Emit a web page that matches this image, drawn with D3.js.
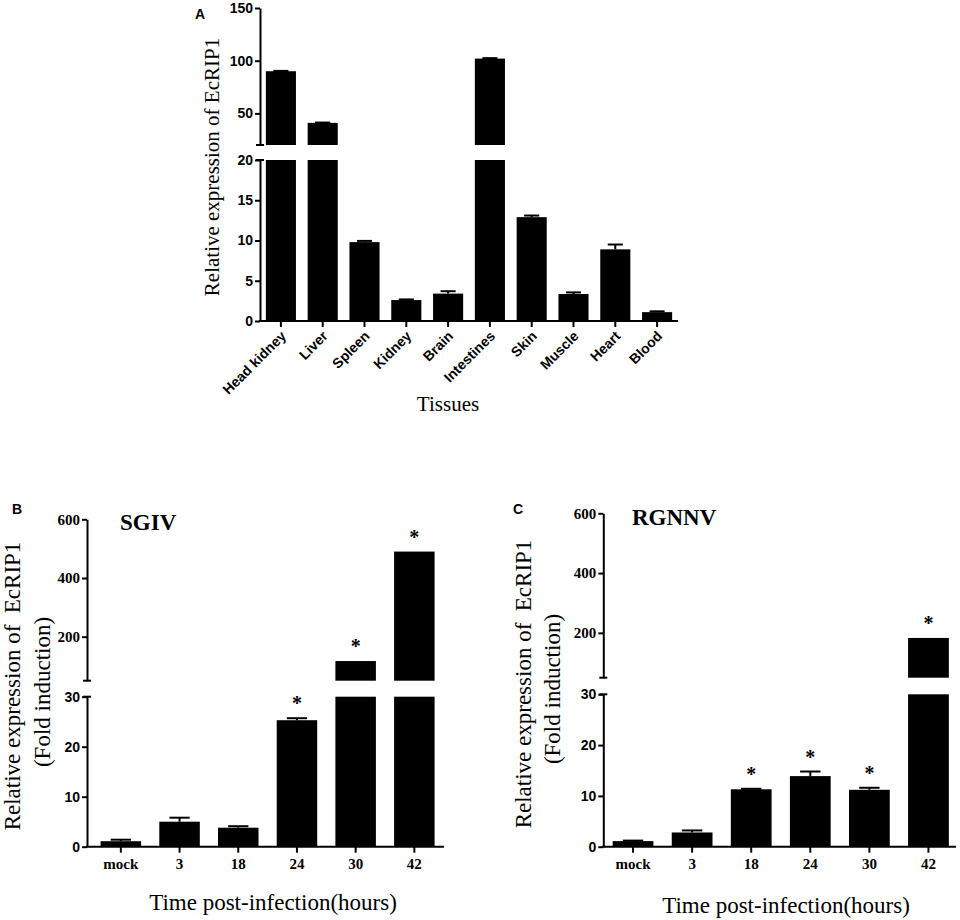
<!DOCTYPE html>
<html>
<head>
<meta charset="utf-8">
<script src="https://cdn.jsdelivr.net/npm/d3@7"></script>
<style>
  body { margin: 0; background: #fff; }
  svg { display: block; }
  text { white-space: pre; }
</style>
</head>
<body>
<script>
// ---------------- DATA ----------------
const tissues = ["Head kidney", "Liver", "Spleen", "Kidney", "Brain", "Intestines", "Skin", "Muscle", "Heart", "Blood"];
const tissueValues = [90, 41, 9.8, 2.6, 3.4, 102, 12.9, 3.35, 8.9, 1.1];
const tissueErrors = [0.3, 0.3, 0.15, 0.08, 0.3, 0.4, 0.2, 0.2, 0.6, 0.1];
const tissueLowTicks = [0, 5, 10, 15, 20];
const tissueHighTicks = [50, 100, 150];

const timeLabels = ["mock", "3", "18", "24", "30", "42"];
const sgivValues = [1.1, 5.0, 3.8, 25.3, 117, 490];
const sgivErrors = [0.3, 0.8, 0.3, 0.4, 0, 0];
const sgivSig = [false, false, false, true, true, true];
const rgnnvValues = [1.1, 2.8, 11.3, 13.9, 11.2, 183];
const rgnnvErrors = [0.1, 0.4, 0.1, 0.9, 0.4, 0];
const rgnnvSig = [false, false, true, true, true, true];
const timeLowTicks = [0, 10, 20, 30];
const timeHighTicks = [200, 400, 600];

// ---------------- DRAWING ----------------
const SANS = "'Liberation Sans', Arial, sans-serif";
const SERIF = "'Liberation Serif', 'Times New Roman', serif";

const svg = d3.select("body").append("svg")
  .attr("width", 960).attr("height", 920);

function drawPanel(cfg) {
  const g = svg.append("g");
  const x = d3.scaleBand().domain(cfg.cats).range(cfg.xRange)
    .paddingInner(cfg.padIn).paddingOuter(cfg.padOut);
  const yLow = d3.scaleLinear().domain(cfg.lowDomain).range(cfg.lowRange);
  const yHigh = d3.scaleLinear().domain(cfg.highDomain).range(cfg.highRange);
  const lowMax = cfg.lowDomain[1];
  const highMin = cfg.highDomain[0];
  const y = v => v <= lowMax ? yLow(v) : yHigh(v);
  const data = cfg.cats.map((c, i) => ({ c, v: cfg.vals[i], e: cfg.errs[i], s: cfg.sig ? cfg.sig[i] : false }));

  // lower bar parts
  g.selectAll("rect.low").data(data).join("rect").attr("class", "low")
    .attr("x", d => x(d.c)).attr("width", x.bandwidth())
    .attr("y", d => yLow(Math.min(d.v, lowMax)))
    .attr("height", d => yLow(0) - yLow(Math.min(d.v, lowMax)))
    .attr("fill", "#000");
  // upper bar parts
  g.selectAll("rect.high").data(data.filter(d => d.v > lowMax)).join("rect").attr("class", "high")
    .attr("x", d => x(d.c)).attr("width", x.bandwidth())
    .attr("y", d => yHigh(d.v))
    .attr("height", d => yHigh(highMin) - yHigh(d.v))
    .attr("fill", "#000");
  // error bars
  const capW = x.bandwidth() * cfg.capFrac;
  const eb = g.selectAll("g.err").data(data.filter(d => d.e > 0)).join("g").attr("class", "err");
  eb.append("line")
    .attr("x1", d => x(d.c) + x.bandwidth() / 2).attr("x2", d => x(d.c) + x.bandwidth() / 2)
    .attr("y1", d => y(d.v)).attr("y2", d => y(d.v + d.e))
    .attr("stroke", "#000").attr("stroke-width", 2);
  eb.append("line")
    .attr("x1", d => x(d.c) + x.bandwidth() / 2 - capW / 2).attr("x2", d => x(d.c) + x.bandwidth() / 2 + capW / 2)
    .attr("y1", d => y(d.v + d.e)).attr("y2", d => y(d.v + d.e))
    .attr("stroke", "#000").attr("stroke-width", 2);
  // asterisks
  g.selectAll("text.sig").data(data.filter(d => d.s)).join("text").attr("class", "sig")
    .attr("x", d => x(d.c) + x.bandwidth() / 2)
    .attr("y", d => y(d.v + d.e) - cfg.starGap)
    .attr("text-anchor", "middle")
    .attr("font-family", SERIF).attr("font-weight", "bold").attr("font-size", 20)
    .text("*");

  // y axis - lower segment
  const ax0 = cfg.axisX;
  const gl = g.append("g").attr("transform", `translate(${ax0},0)`)
    .call(d3.axisLeft(yLow).tickValues(cfg.lowTicks).tickSize(5).tickSizeOuter(0).tickPadding(2));
  gl.select(".domain").attr("stroke-width", 2);
  gl.selectAll(".tick line").attr("stroke-width", 2);
  gl.selectAll(".tick text").attr("font-family", SANS).attr("font-weight", "bold")
    .attr("font-size", cfg.lowTickSize).attr("fill", "#000");
  // y axis - upper segment
  const gh = g.append("g").attr("transform", `translate(${ax0},0)`)
    .call(d3.axisLeft(yHigh).tickValues(cfg.highTicks).tickSize(5).tickSizeOuter(0).tickPadding(2));
  gh.select(".domain").attr("stroke-width", 2);
  gh.selectAll(".tick line").attr("stroke-width", 2);
  gh.selectAll(".tick text").attr("font-family", cfg.highTickFont).attr("font-weight", "bold")
    .attr("font-size", cfg.highTickSize).attr("fill", "#000");
  // break caps
  [yLow(lowMax), yHigh(highMin)].forEach(yy => {
    g.append("line").attr("x1", ax0 - 4).attr("x2", ax0 + 4).attr("y1", yy).attr("y2", yy)
      .attr("stroke", "#000").attr("stroke-width", 2);
  });

  // x axis
  const gx = g.append("g").attr("transform", `translate(0,${yLow(0)})`)
    .call(d3.axisBottom(x).tickSize(6).tickSizeOuter(0));
  gx.select(".domain").remove();
  gx.selectAll(".tick line").attr("stroke-width", 2);
  gx.append("line").attr("x1", ax0 - 1).attr("x2", cfg.axisEnd).attr("y1", 0).attr("y2", 0)
    .attr("stroke", "#000").attr("stroke-width", 2);
  if (cfg.rotateLabels) {
    gx.selectAll(".tick text")
      .attr("font-family", SANS).attr("font-weight", "bold").attr("font-size", 14).attr("fill", "#000")
      .attr("text-anchor", "end")
      .attr("x", 0).attr("y", 0).attr("dy", 0)
      .attr("transform", "translate(6,16) rotate(-45)");
  } else {
    gx.selectAll(".tick text")
      .attr("font-family", SERIF).attr("font-weight", "bold").attr("font-size", 15).attr("fill", "#000")
      .attr("y", 12);
  }
  return g;
}

function label(txt, x, y, opts) {
  const t = svg.append("text").attr("x", x).attr("y", y)
    .attr("font-family", opts.family).attr("font-size", opts.size)
    .attr("font-weight", opts.weight || "normal")
    .attr("text-anchor", opts.anchor || "middle").attr("fill", "#000")
    .text(txt);
  if (opts.rotate) t.attr("transform", `rotate(-90,${x},${y})`);
  return t;
}

// ---- Panel A ----
drawPanel({
  cats: tissues, vals: tissueValues, errs: tissueErrors,
  xRange: [260, 678], padIn: 0.28, padOut: 0.14, axisX: 260, axisEnd: 678,
  lowDomain: [0, 20], lowRange: [321, 160],
  highDomain: [20, 150], highRange: [145, 8],
  lowTicks: tissueLowTicks, highTicks: tissueHighTicks,
  lowTickSize: 14, highTickSize: 14, highTickFont: SANS,
  capFrac: 0.5, starGap: 8, rotateLabels: true
});
label("A", 200, 19, { family: SANS, size: 14, weight: "bold" });
label("Relative expression of EcRIP1", 219, 167, { family: SERIF, size: 21, rotate: true });
label("Tissues", 448, 411, { family: SERIF, size: 21 });

// ---- Panel B ----
drawPanel({
  cats: timeLabels, vals: sgivValues, errs: sgivErrors, sig: sgivSig,
  xRange: [91.5, 443.7], padIn: 0.31, padOut: 0.155, axisX: 87, axisEnd: 444,
  lowDomain: [0, 30], lowRange: [846.7, 696.7],
  highDomain: [50, 600], highRange: [680.7, 519.3],
  lowTicks: timeLowTicks, highTicks: timeHighTicks,
  lowTickSize: 14, highTickSize: 15, highTickFont: SERIF,
  capFrac: 0.5, starGap: 8, rotateLabels: false
});
label("B", 17, 514, { family: SANS, size: 14, weight: "bold" });
label("SGIV", 120, 530, { family: SERIF, size: 23, weight: "bold", anchor: "start" });
label("Relative expression of  EcRIP1", 20, 686, { family: SERIF, size: 23, rotate: true });
label("(Fold induction)", 50, 692, { family: SERIF, size: 23, rotate: true });
label("Time post-infection(hours)", 273, 910, { family: SERIF, size: 23 });

// ---- Panel C ----
drawPanel({
  cats: timeLabels, vals: rgnnvValues, errs: rgnnvErrors, sig: rgnnvSig,
  xRange: [603.5, 958], padIn: 0.31, padOut: 0.155, axisX: 603.3, axisEnd: 956,
  lowDomain: [0, 30], lowRange: [846.7, 694.3],
  highDomain: [50, 600], highRange: [677.7, 513.3],
  lowTicks: timeLowTicks, highTicks: timeHighTicks,
  lowTickSize: 14, highTickSize: 15, highTickFont: SERIF,
  capFrac: 0.5, starGap: 8, rotateLabels: false
});
label("C", 518, 514, { family: SANS, size: 14, weight: "bold" });
label("RGNNV", 632, 525, { family: SERIF, size: 23, weight: "bold", anchor: "start" });
label("Relative expression of  EcRIP1", 531, 684, { family: SERIF, size: 23, rotate: true });
label("(Fold induction)", 560, 689, { family: SERIF, size: 23, rotate: true });
label("Time post-infection(hours)", 786, 913, { family: SERIF, size: 23 });
</script>
</body>
</html>
